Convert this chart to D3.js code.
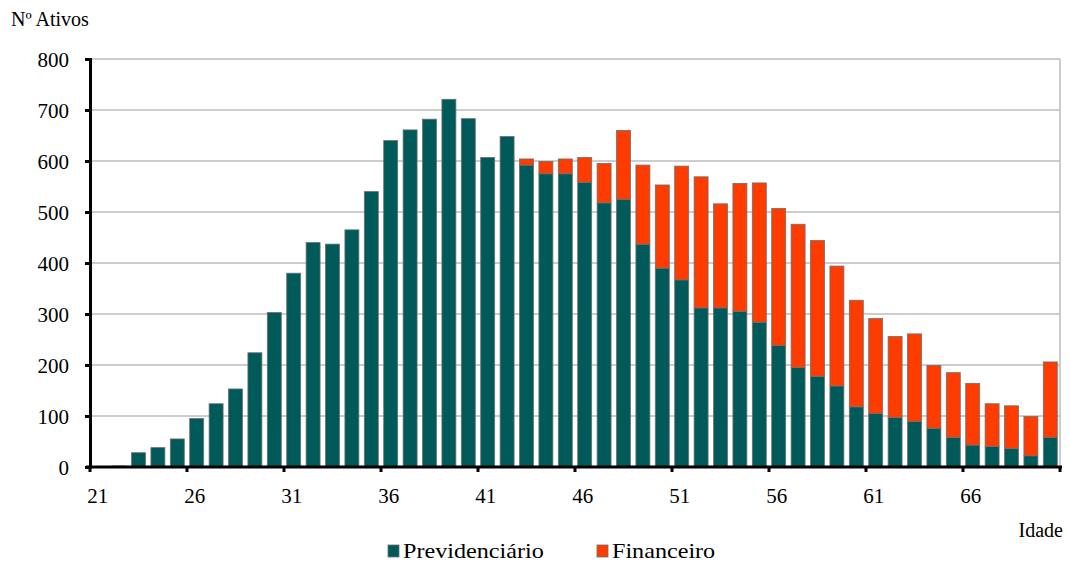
<!DOCTYPE html>
<html><head><meta charset="utf-8">
<script src="https://cdn.jsdelivr.net/npm/d3@7"></script>
<style>body{margin:0;background:#fff}svg{display:block}svg text{font-family:"Liberation Serif","Times New Roman",serif !important;fill:#000}</style>
</head><body><svg id="c" width="1070" height="565"></svg>
<script>
const ages = d3.range(21, 71);
const previdenciario = [1,2,28,38,55,95,124,153,224,303,380,440,437,465,540,640,661,682,721,683,607,648,592,575,575,558,518,525,437,390,367,312,312,305,284,238,195,178,159,118,105,97,89,76,58,43,40,36,22,58];
const total = [1,2,28,38,55,95,124,153,224,303,380,440,437,465,540,640,661,682,721,683,607,648,604,599,604,607,595,660,592,553,590,569,516,556,557,507,476,444,394,327,291,256,261,199,185,164,124,120,99,206];
const financeiro = total.map((t,i)=>t-previdenciario[i]);
const yTicks = [0,100,200,300,400,500,600,700,800];
const xTickLabels = [21,26,31,36,41,46,51,56,61,66];
const seriesNames = ["Previdenciário","Financeiro"];
const colors = ["#005a5a","#ff3c00"];

const svg = d3.select("#c");
const m = {left:90, right:1060, top:59, bottom:467};
const x = d3.scaleBand().domain(ages).range([m.left, m.right]).paddingInner(0.28).paddingOuter(0.14);
const y = d3.scaleLinear().domain([0,800]).range([m.bottom, m.top]);

svg.append("g").selectAll("line").data(yTicks.filter(d=>d>0)).join("line")
  .attr("x1", m.left).attr("x2", m.right).attr("y1", d=>y(d)).attr("y2", d=>y(d))
  .attr("stroke","#bdbdbd").attr("stroke-width",1.5);
svg.append("line").attr("x1",m.right).attr("x2",m.right).attr("y1",m.top).attr("y2",m.bottom)
  .attr("stroke","#bdbdbd").attr("stroke-width",1.5);

const data = ages.map((a,i)=>({age:a, previdenciario:previdenciario[i], financeiro:financeiro[i]}));
const stack = d3.stack().keys(["previdenciario","financeiro"])(data);
svg.append("g").selectAll("g").data(stack).join("g")
  .attr("fill",(d,i)=>colors[i])
  .selectAll("rect").data(d=>d.filter(p=>p[1]-p[0]>0)).join("rect")
  .attr("x", d=>x(d.data.age)).attr("width", x.bandwidth())
  .attr("y", d=>y(d[1])).attr("height", d=>y(d[0])-y(d[1]))
  .attr("stroke","#6e6e6e").attr("stroke-width",0.8);

const yAxis = svg.append("g").attr("transform",`translate(${m.left},0)`)
  .call(d3.axisLeft(y).tickValues(yTicks).tickSize(5).tickPadding(16));
yAxis.attr("font-family",null);
yAxis.select(".domain").attr("stroke","#000").attr("stroke-width",3);
yAxis.selectAll(".tick line").attr("stroke","#000").attr("stroke-width",3);
yAxis.selectAll("text").attr("font-size",21).attr("dy","0.34em");

const xg = svg.append("g").attr("transform",`translate(0,${m.bottom})`);
xg.append("line").attr("x1",m.left-4).attr("x2",m.right+2).attr("stroke","#000").attr("stroke-width",3);
const tickPos = d3.range(0, 11).map(k => m.left + (m.right-m.left)/50*5*k);
xg.selectAll("line.t").data(tickPos).join("line").attr("class","t")
  .attr("x1",d=>d).attr("x2",d=>d).attr("y1",0).attr("y2",5).attr("stroke","#000").attr("stroke-width",3);
xg.selectAll("text").data(xTickLabels).join("text")
  .attr("x", d=>x(d)+x.bandwidth()/2 - 2).attr("y", 36).attr("text-anchor","middle")
  .attr("font-size",21).text(d=>d);

svg.append("text").attr("x",11).attr("y",26).attr("font-size",20).text("Nº Ativos");
svg.append("text").attr("x",1063).attr("y",537).attr("text-anchor","end").attr("font-size",20).text("Idade");

const lg = svg.append("g").attr("transform","translate(388,557)");
const items = [{n:seriesNames[0],c:colors[0],x:0},{n:seriesNames[1],c:colors[1],x:209}];
items.forEach(it=>{
  lg.append("rect").attr("x",it.x).attr("y",-12).attr("width",11).attr("height",12)
    .attr("fill",it.c).attr("stroke","#6e6e6e").attr("stroke-width",0.8);
  lg.append("text").attr("transform",`translate(${it.x+15},1) scale(1.15,1)`)
    .attr("font-size",21).text(it.n);
});
</script></body></html>
